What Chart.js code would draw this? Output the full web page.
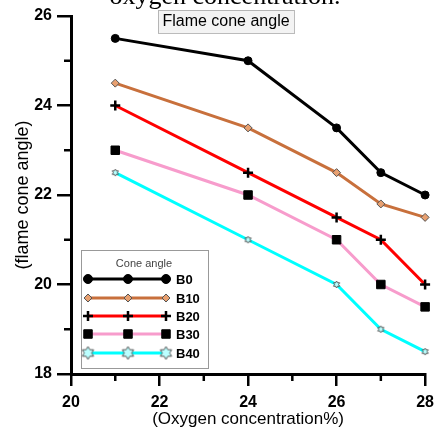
<!DOCTYPE html>
<html>
<head>
<meta charset="utf-8">
<script src="https://cdn.jsdelivr.net/npm/chart.js@4.4.1/dist/chart.umd.min.js"></script>
<style>
  html, body { margin: 0; padding: 0; background: #fff; }
  #wrap { width: 441px; height: 430px; position: relative; }
</style>
</head>
<body>
<div id="wrap"><canvas id="myChart" width="441" height="430"></canvas></div>
<script>
const oxygen = [21, 24, 26, 27, 28];
const seriesNames = ["B0", "B10", "B20", "B30", "B40"];
const b0 = [25.5, 25, 23.5, 22.5, 22];
const b10 = [24.5, 23.5, 22.5, 21.8, 21.5];
const b20 = [24, 22.5, 21.5, 21, 20];
const b30 = [23, 22, 21, 20, 19.5];
const b40 = [22.5, 21, 20, 19, 18.5];
const xTicks = [20, 22, 24, 26, 28];
const yTicks = [18, 20, 22, 24, 26];
const xMinor = [21, 23, 25, 27];
const yMinor = [19, 21, 23, 25];

// six pointed star used by B40
function starImg(size) {
  const c = document.createElement("canvas");
  c.width = size; c.height = size;
  const g = c.getContext("2d");
  const r = size / 2 - 1, cx = size / 2, cy = size / 2;
  g.beginPath();
  for (let k = 0; k < 12; k++) {
    const a = -Math.PI / 2 + k * Math.PI / 6;
    const rr = k % 2 === 0 ? r : r * 0.58;
    g.lineTo(cx + rr * Math.cos(a), cy + rr * Math.sin(a));
  }
  g.closePath();
  g.fillStyle = "#bff";
  g.fill();
  g.strokeStyle = "#555";
  g.lineWidth = 1;
  g.stroke();
  return c;
}
const starSmall = starImg(9);
const starBig = starImg(15);

function pts(arr) {
  return oxygen.map((x, i) => ({ x: x, y: arr[i] }));
}

const styles = [
  { color: "#000", pointStyle: "circle", radius: 4, fill: "#000", border: "#000" },
  { color: "#c8703c", pointStyle: "rectRot", radius: 4, fill: "#e8a070", border: "#555" },
  { color: "#ff0000", pointStyle: "cross", radius: 5, fill: "#000", border: "#000" },
  { color: "#f79ccc", pointStyle: "rect", radius: 6, fill: "#000", border: "#000" },
  { color: "#00ffff", pointStyle: starSmall, radius: 4, fill: "#bff", border: "#555" },
];

const allData = [b0, b10, b20, b30, b40];

const datasets = allData.map((d, i) => ({
  label: seriesNames[i],
  data: pts(d),
  borderColor: styles[i].color,
  borderWidth: 3,
  pointStyle: styles[i].pointStyle,
  pointRadius: styles[i].radius,
  pointBackgroundColor: styles[i].fill,
  pointBorderColor: styles[i].border,
  pointBorderWidth: i === 2 ? 2.5 : 1,
  tension: 0,
  clip: false,
}));

const extras = {
  id: "extras",
  afterDraw(chart) {
    const ctx = chart.ctx;
    const xs = chart.scales.x, ys = chart.scales.y;
    ctx.save();
    // minor ticks
    ctx.strokeStyle = "#000";
    ctx.lineWidth = 2.5;
    xMinor.forEach(v => {
      const px = xs.getPixelForValue(v);
      ctx.beginPath(); ctx.moveTo(px, ys.bottom); ctx.lineTo(px, ys.bottom + 7); ctx.stroke();
    });
    yMinor.forEach(v => {
      const py = ys.getPixelForValue(v);
      ctx.beginPath(); ctx.moveTo(xs.left, py); ctx.lineTo(xs.left - 7, py); ctx.stroke();
    });

    // cut-off heading at the very top
    ctx.fillStyle = "#000";
    ctx.font = "26px 'Liberation Serif'";
    ctx.textAlign = "center";
    ctx.textBaseline = "alphabetic";
    ctx.fillText("oxygen concentration.", 225, 4);

    // boxed title
    ctx.fillStyle = "#f3f3f3";
    ctx.fillRect(158, 10, 136, 23);
    ctx.setLineDash([1, 1]);
    ctx.strokeStyle = "#777";
    ctx.lineWidth = 1;
    ctx.strokeRect(158.5, 10.5, 136, 23);
    ctx.setLineDash([]);
    ctx.fillStyle = "#000";
    ctx.font = "16px 'Liberation Sans'";
    ctx.textBaseline = "middle";
    ctx.fillText("Flame cone angle", 226, 22);

    // legend
    ctx.fillStyle = "#fff";
    ctx.fillRect(81, 250, 127, 118);
    ctx.strokeStyle = "#999";
    ctx.strokeRect(81.5, 250.5, 127, 118);
    ctx.fillStyle = "#444";
    ctx.font = "11px 'Liberation Sans'";
    ctx.fillText("Cone angle", 144, 264);
    const rows = [279, 298, 316, 334, 353];
    rows.forEach((ry, i) => {
      const st = styles[i];
      ctx.strokeStyle = st.color;
      ctx.lineWidth = 3;
      ctx.beginPath(); ctx.moveTo(88, ry); ctx.lineTo(166, ry); ctx.stroke();
      [88, 128, 166].forEach(mx => {
        ctx.fillStyle = st.fill;
        ctx.strokeStyle = st.border;
        ctx.lineWidth = i === 2 ? 2.5 : 1;
        if (i === 4) {
          ctx.drawImage(starBig, mx - 7.5, ry - 7.5);
        } else {
          Chart.helpers.drawPoint(ctx, {
            pointStyle: st.pointStyle,
            radius: i === 0 ? 4.5 : st.radius,
            rotation: 0,
            borderWidth: ctx.lineWidth,
          }, mx, ry);
        }
      });
      ctx.fillStyle = "#000";
      ctx.font = "bold 13px 'Liberation Sans'";
      ctx.textAlign = "left";
      ctx.fillText(seriesNames[i], 176, ry + 1);
      ctx.textAlign = "center";
    });
    ctx.restore();
  }
};

new Chart(document.getElementById("myChart"), {
  type: "line",
  data: { datasets: datasets },
  options: {
    responsive: false,
    animation: false,
    layout: { padding: { top: 16, right: 11, left: 0, bottom: 0 } },
    plugins: { legend: { display: false }, tooltip: { enabled: false } },
    scales: {
      x: {
        type: "linear",
        min: 20, max: 28,
        afterBuildTicks(scale) { scale.ticks = xTicks.map(v => ({ value: v })); },
        afterFit(scale) { scale.height = 56; },
        border: { color: "#000", width: 3 },
        grid: { drawOnChartArea: false, drawTicks: true, tickLength: 12, lineWidth: 2.5, color: "#000" },
        ticks: { color: "#000", font: { family: "Liberation Sans", size: 16, weight: "bold" }, padding: 7, maxRotation: 0 },
        title: { display: true, text: "(Oxygen concentration%)", color: "#000", font: { family: "Liberation Sans", size: 17 }, padding: { top: 0, bottom: 0 } },
      },
      y: {
        min: 18, max: 26,
        afterBuildTicks(scale) { scale.ticks = yTicks.map(v => ({ value: v })); },
        afterFit(scale) { scale.width = 71; },
        border: { color: "#000", width: 3 },
        grid: { drawOnChartArea: false, drawTicks: true, tickLength: 14, lineWidth: 2.5, color: "#000" },
        ticks: { color: "#000", font: { family: "Liberation Sans", size: 16, weight: "bold" }, padding: 5 },
        title: { display: true, text: "(flame cone angle)", color: "#000", font: { family: "Liberation Sans", size: 18 }, padding: { top: 12, bottom: 0 } },
      },
    },
  },
  plugins: [extras],
});
</script>
</body>
</html>
